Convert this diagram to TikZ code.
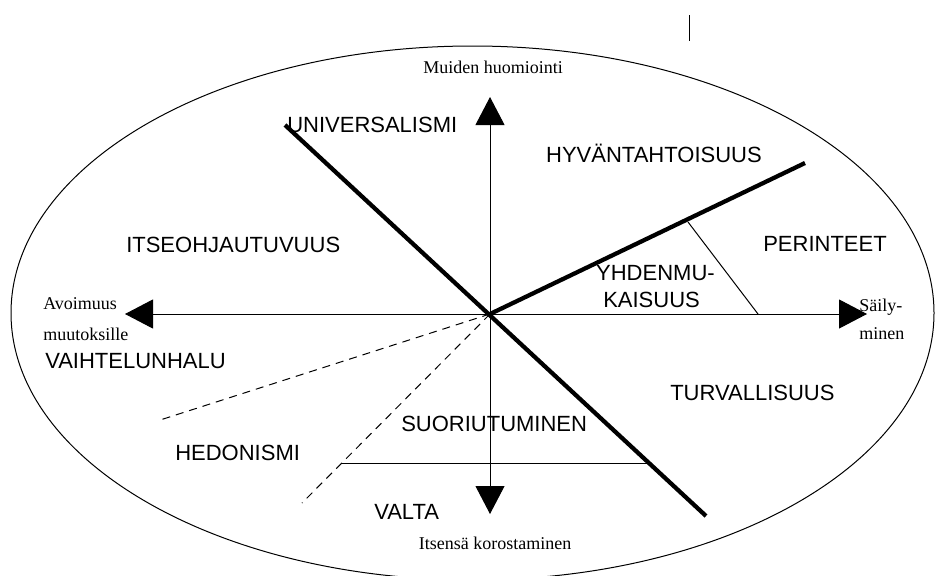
\documentclass[tikz,border=0pt]{standalone}
\usepackage{fontspec}
\setmainfont{Liberation Serif}
\newfontfamily\valuefont{Liberation Sans}
\usetikzlibrary{arrows.meta}
\begin{document}
\begin{tikzpicture}[x=0.75pt,y=-0.75pt,
  thinline/.style={line width=0.75pt},
  thickline/.style={line width=3.2pt},
  dashline/.style={line width=0.75pt,dash pattern=on 6pt off 4.5pt},
  axisarrow/.style={line width=0.75pt,-{Triangle[length=21pt,width=21.75pt]}},
  value/.style={font=\valuefont\fontsize{16.5}{18}\selectfont,inner sep=0pt},
  pole/.style={font=\fontsize{13.5}{15}\selectfont,inner sep=0pt}]
\useasboundingbox (0,0) rectangle (935,575);
\begin{scope}
\clip (0,0) rectangle (935,575);
% outer ellipse
\draw[thinline] (472.5,313) ellipse [x radius=461.5, y radius=267];
\end{scope}
% small mark at the top
\coordinate (m1) at (689,15);
\coordinate (m2) at (689,41);
\draw[thinline] (m1) -- (m2);
% axes
\coordinate (o) at (490,314);
\coordinate (up) at (490,97);
\coordinate (down) at (490,514);
\coordinate (left) at (125,314);
\coordinate (right) at (867,314);
\draw[axisarrow] (o) -- (up);
\draw[axisarrow] (o) -- (down);
\draw[axisarrow] (o) -- (left);
\draw[axisarrow] (o) -- (right);
% main dividing lines
\coordinate (d1) at (285,125);
\coordinate (d2) at (706,516);
\coordinate (d3) at (805,163);
\draw[thickline] (d1) -- (d2);
\draw[thickline] (o) -- (d3);
% thin dividers
\coordinate (t1) at (688,222);
\coordinate (t2) at (758,314);
\draw[thinline] (t1) -- (t2);
\coordinate (h1) at (342,463);
\coordinate (h2) at (647,463);
\draw[thinline] (h1) -- (h2);
% dashed dividers
\coordinate (e1) at (157,421);
\coordinate (e2) at (302,503);
\draw[dashline] (o) -- (e1);
\draw[dashline] (o) -- (e2);
% pole labels
\node[pole,anchor=base] (muiden) at (493,73) {Muiden huomiointi};
\node[pole,anchor=base] (itsensa) at (495,549) {Itsensä korostaminen};
\node[pole,anchor=base west] (avo1) at (43,309) {Avoimuus};
\node[pole,anchor=base west] (avo2) at (43,340) {muutoksille};
\node[pole,anchor=base west] (sai1) at (859,311) {Säily-};
\node[pole,anchor=base west] (sai2) at (859,339) {minen};
% value labels
\node[value,anchor=base west] (univ) at (287,132) {UNIVERSALISMI};
\node[value,anchor=base east] (hyv) at (762,162) {HYVÄNTAHTOISUUS};
\node[value,anchor=base west] (itse) at (126,252) {ITSEOHJAUTUVUUS};
\node[value,anchor=base west] (per) at (763,251) {PERINTEET};
\node[value,anchor=base east] (yhd1) at (715,280) {YHDENMU-};
\node[value,anchor=base west] (yhd2) at (603,307) {KAISUUS};
\node[value,anchor=base west] (vaih) at (45,368) {VAIHTELUNHALU};
\node[value,anchor=base west] (turv) at (670,400) {TURVALLISUUS};
\node[value,anchor=base west] (suor) at (401,431) {SUORIUTUMINEN};
\node[value,anchor=base west] (hed) at (175,460) {HEDONISMI};
\node[value,anchor=base west] (valta) at (374,519) {VALTA};
\end{tikzpicture}
\end{document}
